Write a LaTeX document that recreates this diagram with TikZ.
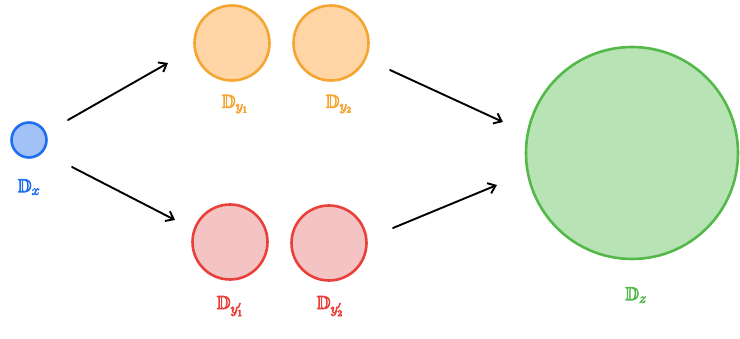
\documentclass[tikz,border=0pt]{standalone}
\usepackage{amssymb}
\usetikzlibrary{arrows.meta}
\definecolor{bstroke}{HTML}{1F6FF0}
\definecolor{bfill}{HTML}{A2C1F7}
\definecolor{ostroke}{HTML}{F5A532}
\definecolor{ofill}{HTML}{FFD5A6}
\definecolor{rstroke}{HTML}{E8403A}
\definecolor{rfill}{HTML}{F4C3C3}
\definecolor{gstroke}{HTML}{55B84B}
\definecolor{gfill}{HTML}{B8E3B5}
\newcommand\heavytxt[1]{\special{pdf:literal direct 2 Tr 0.7 w}#1\special{pdf:literal direct 0 Tr}}
\tikzset{
  blob/.style={circle, line width=2.6pt, inner sep=0pt},
  lbl/.style={font=\fontsize{19}{21}\selectfont},
  arr/.style={-{Straight Barb[length=7pt,width=11pt]}, line width=1.9pt, line cap=round, black}
}
\begin{document}
\begin{tikzpicture}[x=1pt,y=-1pt]
\useasboundingbox (0,0) rectangle (740,339);
% nodes
\node[blob, draw=bstroke, fill=bfill, minimum size=35pt] (dx) at (29,140) {};
\node[lbl, text=bstroke] (ldx) at (29,187) {\heavytxt{$\mathbb{D}_x$}};
\node[blob, draw=ostroke, fill=ofill, minimum size=75pt] (dy1) at (232,43) {};
\node[blob, draw=ostroke, fill=ofill, minimum size=75pt] (dy2) at (331,43) {};
\node[lbl, text=ostroke] (ldy1) at (235,104) {\heavytxt{$\mathbb{D}_{y_1}$}};
\node[lbl, text=ostroke] (ldy2) at (339,104) {\heavytxt{$\mathbb{D}_{y_2}$}};
\node[blob, draw=rstroke, fill=rfill, minimum size=75pt] (dq1) at (230,242) {};
\node[blob, draw=rstroke, fill=rfill, minimum size=75pt] (dq2) at (329,243) {};
\node[lbl, text=rstroke] (ldq1) at (230,306) {\heavytxt{$\mathbb{D}_{y_1'}$}};
\node[lbl, text=rstroke] (ldq2) at (330,306) {\heavytxt{$\mathbb{D}_{y_2'}$}};
\node[blob, draw=gstroke, fill=gfill, minimum size=212pt] (dz) at (632,153) {};
\node[lbl, text=gstroke] (ldz) at (636,295) {\heavytxt{$\mathbb{D}_z$}};
% arrow endpoints
\coordinate (a1s) at (68,120); \coordinate (a1e) at (168,63);
\coordinate (a2s) at (72,167); \coordinate (a2e) at (175,220);
\coordinate (a3s) at (390,70); \coordinate (a3e) at (503,122);
\coordinate (a4s) at (393,228); \coordinate (a4e) at (497,185);
\draw[arr] (a1s) -- (a1e);
\draw[arr] (a2s) -- (a2e);
\draw[arr] (a3s) -- (a3e);
\draw[arr] (a4s) -- (a4e);
\end{tikzpicture}
\end{document}
